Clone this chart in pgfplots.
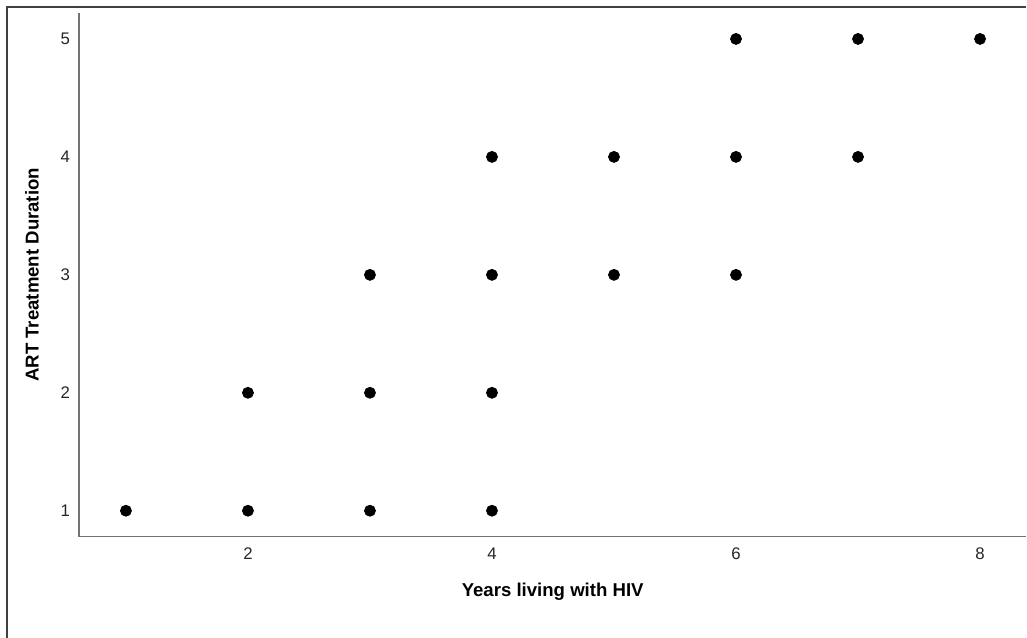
\documentclass[border=0pt]{standalone}
\usepackage{pgfplots}
\pgfplotsset{compat=1.18}
\usepackage{fontspec}
\setmainfont{Liberation Sans}
\begin{document}
\begin{tikzpicture}[x=0.5pt,y=0.5pt]
\begin{axis}[
  at={(0,0)}, anchor=origin,
  scale only axis,
  width=474pt, height=262pt,
  xmin=0.615, xmax=8.38,
  ymin=0.78, ymax=5.22,
  axis lines=left,
  axis line style={draw=black!55, -, line width=0.6pt},
  xtick={2,4,6,8}, ytick={1,2,3,4,5},
  major tick length=0pt,
  tick label style={font=\fontsize{8.4}{9}\selectfont, text=black!85},
  /pgf/number format/assume math mode=true,
  xticklabel style={yshift=-2pt},
  yticklabel style={xshift=-1pt},
  xlabel={\textbf{Years living with HIV}},
  ylabel={\textbf{ART Treatment Duration}},
  label style={font=\fontsize{9.3}{11}\selectfont},
  xlabel style={yshift=-5pt},
  ylabel style={yshift=4pt},
  clip=false,
]
\addplot[only marks, mark=*, mark size=2.75pt, mark options={fill=black, draw=black}] coordinates {
  (1,1) (2,1) (2,2) (3,1) (3,2) (3,3)
  (4,1) (4,2) (4,3) (4,4) (5,3) (5,4)
  (6,3) (6,4) (6,5) (7,4) (7,5) (8,5)
};
\end{axis}
% picture frame (screenshot border)
\useasboundingbox (-79,-101) rectangle (948,537);
\draw[black!75, line width=0.9pt] (-72,-101) -- (-72,530) -- (948,530);
\end{tikzpicture}
\end{document}
